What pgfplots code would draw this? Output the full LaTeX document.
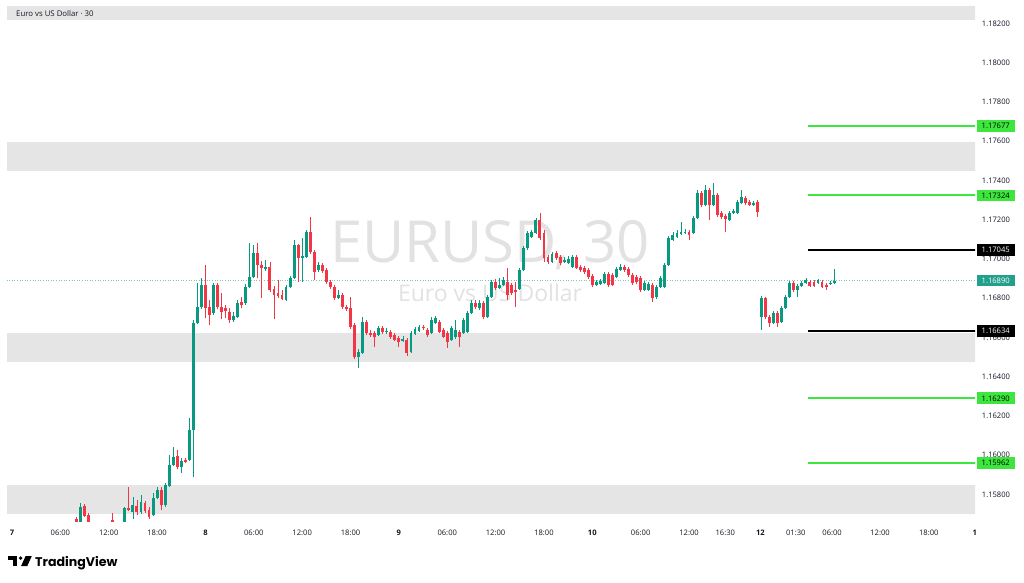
\documentclass[border=0pt]{standalone}
\usepackage{fontspec}
\setmainfont{Open Sans}
\newfontfamily\tvfont{Poppins}
\usepackage{pgfplots}
\usepackage{pgfplotstable}
\pgfplotsset{compat=1.18}
\definecolor{up}{HTML}{089981}
\definecolor{dn}{HTML}{F23645}
\definecolor{zone}{HTML}{E5E5E5}
\definecolor{lime}{HTML}{3CE63C}
\definecolor{txt}{HTML}{131722}
\definecolor{lastc}{HTML}{22A08B}
\definecolor{wm}{HTML}{E2E2E2}

\pgfplotstableread{
x o h l c
17 1.15649 1.15756 1.15639 1.15735
28 1.15649 1.15735 1.15639 1.15730
30 1.15710 1.15786 1.15674 1.15745
32 1.15710 1.15796 1.15699 1.15761
35 1.15694 1.15807 1.15689 1.15781
36 1.15781 1.15837 1.15776 1.15822
38 1.15745 1.15858 1.15735 1.15847
39 1.15842 1.16000 1.15837 1.15949
40 1.15949 1.16041 1.15944 1.15990
42 1.15939 1.15985 1.15909 1.15970
44 1.15975 1.16189 1.15970 1.16128
45 1.16128 1.16689 1.15888 1.16674
46 1.16674 1.16878 1.16669 1.16755
47 1.16755 1.16903 1.16745 1.16867
50 1.16725 1.16878 1.16714 1.16867
55 1.16689 1.16730 1.16679 1.16709
56 1.16704 1.16791 1.16699 1.16776
58 1.16776 1.16873 1.16765 1.16857
59 1.16857 1.17082 1.16852 1.16908
60 1.16908 1.17071 1.16903 1.17031
63 1.16949 1.16995 1.16939 1.16959
68 1.16791 1.16867 1.16786 1.16857
69 1.16857 1.16913 1.16852 1.16903
70 1.16903 1.17097 1.16898 1.17071
72 1.17005 1.17107 1.16883 1.17015
73 1.17010 1.17148 1.17005 1.17138
76 1.16944 1.16985 1.16934 1.16969
81 1.16801 1.16842 1.16796 1.16816
86 1.16500 1.16541 1.16444 1.16526
87 1.16521 1.16704 1.16516 1.16679
91 1.16612 1.16658 1.16607 1.16648
93 1.16628 1.16648 1.16618 1.16633
97 1.16582 1.16607 1.16577 1.16592
99 1.16526 1.16633 1.16521 1.16623
100 1.16618 1.16653 1.16612 1.16643
101 1.16633 1.16663 1.16628 1.16653
104 1.16623 1.16704 1.16618 1.16689
105 1.16674 1.16709 1.16669 1.16699
109 1.16587 1.16658 1.16582 1.16648
110 1.16602 1.16689 1.16592 1.16638
112 1.16623 1.16699 1.16618 1.16689
113 1.16628 1.16735 1.16623 1.16725
114 1.16725 1.16791 1.16720 1.16776
116 1.16750 1.16791 1.16740 1.16776
118 1.16704 1.16816 1.16699 1.16806
119 1.16806 1.16893 1.16801 1.16883
121 1.16852 1.16903 1.16847 1.16867
122 1.16867 1.16908 1.16862 1.16893
126 1.16847 1.16954 1.16842 1.16944
127 1.16944 1.17066 1.16939 1.17056
128 1.17056 1.17143 1.17046 1.17133
129 1.17112 1.17148 1.17107 1.17138
130 1.17133 1.17209 1.17128 1.17199
134 1.16985 1.17036 1.16980 1.17026
137 1.16985 1.17010 1.16980 1.16995
138 1.16980 1.17015 1.16975 1.17000
139 1.16959 1.17020 1.16954 1.17010
145 1.16867 1.16893 1.16862 1.16883
146 1.16873 1.16898 1.16867 1.16888
147 1.16878 1.16934 1.16873 1.16924
150 1.16908 1.16959 1.16903 1.16949
151 1.16944 1.16975 1.16939 1.16959
157 1.16842 1.16888 1.16837 1.16878
158 1.16842 1.16883 1.16837 1.16873
160 1.16806 1.16867 1.16796 1.16857
161 1.16857 1.16913 1.16852 1.16903
162 1.16857 1.16980 1.16852 1.16969
163 1.16969 1.17117 1.16964 1.17107
164 1.17097 1.17138 1.17092 1.17122
165 1.17112 1.17148 1.17107 1.17133
166 1.17128 1.17189 1.17122 1.17138
167 1.17133 1.17153 1.17128 1.17138
169 1.17133 1.17219 1.17128 1.17209
170 1.17209 1.17352 1.17204 1.17337
172 1.17275 1.17377 1.17270 1.17352
174 1.17275 1.17388 1.17270 1.17326
178 1.17199 1.17245 1.17194 1.17235
179 1.17235 1.17255 1.17230 1.17245
180 1.17235 1.17301 1.17230 1.17291
181 1.17286 1.17352 1.17281 1.17316
184 1.17275 1.17296 1.17270 1.17286
186 1.16704 1.16811 1.16638 1.16801
189 1.16674 1.16735 1.16669 1.16725
191 1.16679 1.16760 1.16674 1.16750
192 1.16750 1.16816 1.16745 1.16806
193 1.16806 1.16888 1.16801 1.16878
195 1.16842 1.16873 1.16806 1.16862
196 1.16862 1.16888 1.16857 1.16878
197 1.16878 1.16903 1.16873 1.16893
200 1.16878 1.16898 1.16873 1.16893
203 1.16873 1.16888 1.16867 1.16878
204 1.16878 1.16949 1.16873 1.16890
}\uptab

\pgfplotstableread{
x o h l c
16 1.15674 1.15684 1.15639 1.15654
18 1.15740 1.15751 1.15684 1.15689
19 1.15694 1.15705 1.15639 1.15654
25 1.15669 1.15705 1.15628 1.15644
29 1.15730 1.15837 1.15715 1.15720
31 1.15740 1.15771 1.15694 1.15710
33 1.15756 1.15766 1.15705 1.15715
34 1.15720 1.15735 1.15674 1.15684
37 1.15822 1.15837 1.15720 1.15745
41 1.15995 1.16026 1.15929 1.15939
43 1.15975 1.15985 1.15959 1.15965
48 1.16867 1.16969 1.16699 1.16750
49 1.16755 1.16791 1.16663 1.16714
51 1.16867 1.16878 1.16745 1.16755
52 1.16755 1.16827 1.16694 1.16730
53 1.16750 1.16765 1.16699 1.16735
54 1.16730 1.16750 1.16674 1.16689
57 1.16781 1.16806 1.16750 1.16765
61 1.17031 1.17082 1.16903 1.16969
62 1.16969 1.16990 1.16801 1.16954
64 1.16959 1.16985 1.16832 1.16842
65 1.16847 1.16862 1.16694 1.16816
66 1.16827 1.16893 1.16801 1.16811
67 1.16816 1.16842 1.16791 1.16796
71 1.17071 1.17077 1.16883 1.17005
74 1.17138 1.17214 1.17026 1.17036
75 1.17036 1.17046 1.16893 1.16934
77 1.16969 1.16980 1.16929 1.16939
78 1.16944 1.16954 1.16873 1.16883
79 1.16883 1.16893 1.16847 1.16857
80 1.16857 1.16867 1.16791 1.16801
82 1.16816 1.16827 1.16745 1.16755
83 1.16755 1.16765 1.16735 1.16745
84 1.16750 1.16806 1.16643 1.16653
85 1.16663 1.16674 1.16490 1.16500
88 1.16679 1.16689 1.16612 1.16623
89 1.16623 1.16638 1.16602 1.16612
90 1.16623 1.16633 1.16551 1.16602
92 1.16648 1.16658 1.16618 1.16628
94 1.16628 1.16638 1.16592 1.16602
95 1.16612 1.16623 1.16582 1.16587
96 1.16597 1.16607 1.16551 1.16577
98 1.16587 1.16597 1.16505 1.16521
102 1.16653 1.16663 1.16638 1.16648
103 1.16638 1.16648 1.16602 1.16612
106 1.16679 1.16689 1.16623 1.16628
107 1.16638 1.16648 1.16597 1.16602
108 1.16623 1.16633 1.16546 1.16577
111 1.16628 1.16638 1.16551 1.16602
115 1.16776 1.16791 1.16745 1.16755
117 1.16776 1.16786 1.16694 1.16704
120 1.16883 1.16898 1.16842 1.16852
123 1.16883 1.16954 1.16791 1.16816
124 1.16867 1.16878 1.16816 1.16827
125 1.16842 1.16883 1.16755 1.16832
131 1.17199 1.17235 1.17097 1.17107
132 1.17133 1.17148 1.16985 1.17005
133 1.17010 1.17020 1.16975 1.16985
135 1.17031 1.17041 1.16995 1.17005
136 1.17010 1.17020 1.16969 1.16980
140 1.17010 1.17020 1.16949 1.16954
141 1.16959 1.16969 1.16934 1.16944
142 1.16954 1.16964 1.16924 1.16934
143 1.16944 1.16954 1.16898 1.16908
144 1.16913 1.16924 1.16857 1.16867
148 1.16924 1.16934 1.16857 1.16867
149 1.16918 1.16929 1.16862 1.16867
152 1.16959 1.16969 1.16934 1.16944
153 1.16949 1.16959 1.16908 1.16918
154 1.16918 1.16929 1.16867 1.16878
155 1.16908 1.16918 1.16873 1.16883
156 1.16903 1.16913 1.16832 1.16842
159 1.16867 1.16878 1.16781 1.16801
168 1.17138 1.17148 1.17097 1.17122
171 1.17337 1.17347 1.17265 1.17275
173 1.17352 1.17362 1.17199 1.17275
175 1.17326 1.17337 1.17214 1.17224
176 1.17235 1.17245 1.17204 1.17214
177 1.17219 1.17230 1.17138 1.17204
182 1.17311 1.17321 1.17275 1.17286
183 1.17291 1.17301 1.17270 1.17275
185 1.17291 1.17301 1.17214 1.17240
187 1.16801 1.16806 1.16694 1.16704
188 1.16704 1.16714 1.16653 1.16674
190 1.16725 1.16735 1.16653 1.16674
194 1.16878 1.16888 1.16832 1.16842
198 1.16883 1.16893 1.16857 1.16862
199 1.16883 1.16893 1.16857 1.16862
201 1.16883 1.16893 1.16852 1.16857
202 1.16867 1.16878 1.16842 1.16857
}\dntab

\pgfplotsset{
  candle/.style 2 args={draw=none, mark=none, forget plot,
    error bars/.cd, y dir=plus, y explicit, error mark=none,
    error bar style={draw=#1, solid, line width=#2}},
}

\begin{document}
\begin{tikzpicture}
\path[use as bounding box, fill=white] (0pt,0pt) rectangle (1024pt,582pt);
\begin{axis}[
  at={(7pt,61pt)}, anchor=south west,
  scale only axis, width=968pt, height=514pt,
  xmin=-1.2407, xmax=238.96,
  ymin=1.156648, ymax=1.182842,
  axis line style={draw=none},
  tick style={draw=none},
  major tick length=0pt,
  xtick={0,12,24,36,48,60,72,84,96,108,120,132,144,156,168,177,185.7,194.5,203.5,215.4,227.5,238.9},
  xticklabels={\textbf{7},06:00,12:00,18:00,\textbf{8},06:00,12:00,18:00,\textbf{9},06:00,12:00,18:00,\textbf{10},06:00,12:00,16:30,\textbf{12},01:30,06:00,12:00,18:00,\textbf{1}},
  xticklabel style={anchor=base, yshift=-14pt, font=\fontsize{7.6}{9}\selectfont, text=txt},
  ytick={1.158,1.160,1.162,1.164,1.166,1.168,1.170,1.172,1.174,1.176,1.178,1.180,1.182},
  yticklabel pos=right,
  yticklabel style={anchor=west, inner sep=0pt, xshift=6.7pt, font=\fontsize{7.6}{9}\selectfont, text=txt,
    /pgf/number format/.cd, fixed, fixed zerofill, precision=5, 1000 sep={}, assume math mode=true},
  scaled y ticks=false,
  clip=true,
]
% zones
\addplot[draw=none, fill=zone, forget plot] coordinates {(-2,1.18218) (240,1.18218) (240,1.18330) (-2,1.18330)} -- cycle;
\addplot[draw=none, fill=zone, forget plot] coordinates {(-2,1.17448) (240,1.17448) (240,1.17596) (-2,1.17596)} -- cycle;
\addplot[draw=none, fill=zone, forget plot] coordinates {(-2,1.16475) (240,1.16475) (240,1.16623) (-2,1.16623)} -- cycle;
\addplot[draw=none, fill=zone, forget plot] coordinates {(-2,1.15700) (240,1.15700) (240,1.15848) (-2,1.15848)} -- cycle;
% watermark
\node[text=wm, font=\fontsize{58}{60}\selectfont] at (rel axis cs:0.499,0.537) {EURUSD, 30};
\node[text=wm, font=\fontsize{23}{25}\selectfont] at (rel axis cs:0.499,0.4436) {Euro vs US Dollar};
\node[anchor=west, text=txt, font=\fontsize{7.8}{9}\selectfont] at ([xshift=5.7pt,yshift=-7pt]rel axis cs:0,1) {Euro vs US Dollar · 30};
% last price line
\addplot[lastc!60, dotted, line width=0.6pt, forget plot] coordinates {(-2,1.16890) (240,1.16890)};
% levels
\addplot[lime, line width=2pt, forget plot] coordinates {(197.5,1.17677) (240,1.17677)};
\addplot[lime, line width=2pt, forget plot] coordinates {(197.5,1.17324) (240,1.17324)};
\addplot[black, line width=2pt, forget plot] coordinates {(197.5,1.17045) (240,1.17045)};
\addplot[black, line width=2pt, forget plot] coordinates {(197.5,1.16634) (240,1.16634)};
\addplot[lime, line width=2pt, forget plot] coordinates {(197.5,1.16290) (240,1.16290)};
\addplot[lime, line width=2pt, forget plot] coordinates {(197.5,1.15962) (240,1.15962)};
% candles: wicks
\addplot[candle={up}{0.8pt}] table[x=x, y=l, y error expr=\thisrow{h}-\thisrow{l}] {\uptab};
\addplot[candle={dn}{0.8pt}] table[x=x, y=l, y error expr=\thisrow{h}-\thisrow{l}] {\dntab};
% candles: bodies
\addplot[candle={up}{2.9pt}] table[x=x, y expr={min(\thisrow{o},\thisrow{c})}, y error expr={max(abs(\thisrow{c}-\thisrow{o}),0.00002)}] {\uptab};
\addplot[candle={dn}{2.9pt}] table[x=x, y expr={min(\thisrow{o},\thisrow{c})}, y error expr={max(abs(\thisrow{c}-\thisrow{o}),0.00002)}] {\dntab};
% anchors for price boxes
\coordinate (b1) at (axis cs:238.96,1.17677);
\coordinate (b2) at (axis cs:238.96,1.17324);
\coordinate (b3) at (axis cs:238.96,1.17045);
\coordinate (b4) at (axis cs:238.96,1.16890);
\coordinate (b5) at (axis cs:238.96,1.16634);
\coordinate (b6) at (axis cs:238.96,1.16290);
\coordinate (b7) at (axis cs:238.96,1.15962);
\end{axis}
\tikzset{pbox/.style={anchor=west, inner sep=0pt, minimum width=37.6pt, minimum height=11.7pt, font=\fontsize{7.6}{9}\selectfont, xshift=1.7pt}}
\node[pbox, fill=lime, text=black] at (b1) {1.17677};
\node[pbox, fill=lime, text=black] at (b2) {1.17324};
\node[pbox, fill=black, text=white] at (b3) {1.17045};
\node[pbox, fill=lastc, text=white] at (b4) {1.16890};
\node[pbox, fill=black, text=white] at (b5) {1.16634};
\node[pbox, fill=lime, text=black] at (b6) {1.16290};
\node[pbox, fill=lime, text=black] at (b7) {1.15962};
% TradingView logo
\fill[black] (8pt,26pt) rectangle (17pt,22.3pt);
\fill[black] (13.2pt,26pt) rectangle (17pt,16pt);
\fill[black] (20.6pt,23.9pt) circle (1.9pt);
\fill[black] (25.6pt,26pt) -- (31.8pt,26pt) -- (27.3pt,16pt) -- (21.1pt,16pt) -- cycle;
\node[anchor=base west, inner sep=0pt, font=\tvfont\bfseries\fontsize{12.6}{14}\selectfont] at (35pt,16pt) {TradingView};
\end{tikzpicture}
\end{document}
